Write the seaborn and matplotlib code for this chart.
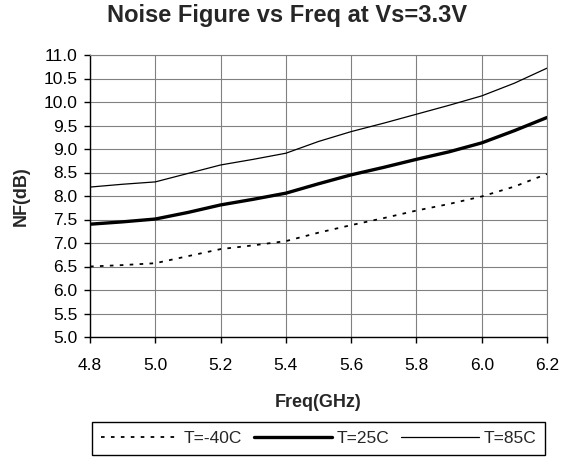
import matplotlib
matplotlib.use("Agg")
import matplotlib.pyplot as plt
import numpy as np
import seaborn as sns

# values
freq = [4.8, 4.9, 5.0, 5.1, 5.2, 5.3, 5.4, 5.5, 5.6, 5.7, 5.8, 5.9, 6.0, 6.1, 6.2]
nf_m40 = [6.50, 6.53, 6.57, 6.72, 6.87, 6.95, 7.04, 7.22, 7.38, 7.53, 7.69, 7.83, 7.99, 8.20, 8.47]
nf_25 = [7.40, 7.45, 7.51, 7.65, 7.81, 7.93, 8.06, 8.26, 8.45, 8.61, 8.78, 8.94, 9.13, 9.39, 9.67]
nf_85 = [8.19, 8.25, 8.30, 8.48, 8.66, 8.78, 8.91, 9.16, 9.37, 9.55, 9.74, 9.93, 10.13, 10.40, 10.72]
labels = ["T=-40C", "T=25C", "T=85C"]

sns.set_style("white")
plt.rcParams['font.family'] = ['Liberation Sans', 'DejaVu Sans']

fig = plt.figure(figsize=(5.74, 4.58), dpi=100)
ax = fig.add_axes([90/574, 1-337/458, 457/574, 282/458])

styles = [((0, (2, 3.5)), 1.3), ('-', 2.4), ('-', 0.9)]
for vals, lab, (ls, lw) in zip([nf_m40, nf_25, nf_85], labels, styles):
    sns.lineplot(x=freq, y=vals, ax=ax, color='black', linestyle=ls,
                 linewidth=lw, label=lab, legend=False)

ax.set_xlim(4.8, 6.2)
ax.set_ylim(5.0, 11.0)
ax.set_xticks(np.arange(4.8, 6.21, 0.2))
ax.set_yticks(np.arange(5.0, 11.01, 0.5))
ax.xaxis.set_major_formatter(matplotlib.ticker.FormatStrFormatter('%.1f'))
ax.yaxis.set_major_formatter(matplotlib.ticker.FormatStrFormatter('%.1f'))
ax.grid(True, color='#808080', linewidth=0.8)
ax.set_axisbelow(True)
for s in ['top', 'right']:
    ax.spines[s].set_color('#808080')
    ax.spines[s].set_linewidth(0.8)
for s in ['left', 'bottom']:
    ax.spines[s].set_color('black')
    ax.spines[s].set_linewidth(1.0)
ax.tick_params(axis='both', which='major', direction='out', length=4,
               width=1, color='black', labelsize=12.5, labelcolor='black',
               left=True, bottom=True)
ax.tick_params(axis='x', pad=11)
ax.tick_params(axis='y', pad=5)

ax.set_xlabel("Freq(GHz)", fontsize=13, fontweight='bold', labelpad=15)
ax.set_ylabel("NF(dB)", fontsize=13, fontweight='bold', labelpad=10)
fig.suptitle("Noise Figure vs Freq at Vs=3.3V", fontsize=17, fontweight='bold',
             x=0.5, y=1-15.5/458, va='center')

handles, labs = ax.get_legend_handles_labels()
leg = fig.legend(handles, labs, loc='upper center', bbox_to_anchor=(318.5/574, 1-422/458),
                 ncol=3, fontsize=12.5, handlelength=4.5, handletextpad=0.25,
                 columnspacing=0.7, borderpad=0.5, borderaxespad=0,
                 frameon=True, fancybox=False, edgecolor='black', framealpha=1)
leg.get_frame().set_linewidth(1.0)

fig.savefig("out.png", dpi=100)
